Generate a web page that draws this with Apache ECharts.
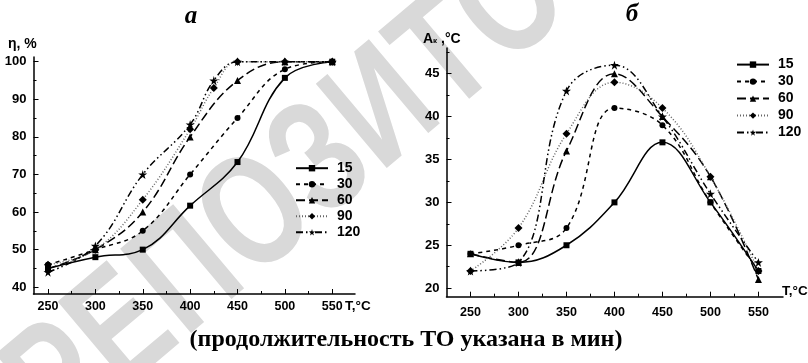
<!DOCTYPE html>
<html>
<head>
<meta charset="utf-8">
<script src="https://cdn.jsdelivr.net/npm/echarts@6/dist/echarts.min.js"></script>
<style>
  html, body { margin: 0; padding: 0; background: #fff; }
  #chart { width: 808px; height: 363px; }
</style>
</head>
<body>
<div id="chart"></div>
<script>
// heat-treatment duration, min
const durations = ['15', '30', '60', '90', '120'];

// (a) efficiency, %
const tempsA = [250, 300, 350, 400, 450, 500, 550];
const tempsA425 = [250, 300, 350, 400, 425, 450, 500, 550];
const eta15 = [45, 48, 50, 61.7, 73.3, 95.7, 100];
const eta30 = [46, 50, 55, 70, 85, 98, 100];
const eta60 = [45, 50, 60, 80, 95, 100, 100];
const eta90 = [46, 50, 63.3, 82, 93, 100, 100, 100];
const eta120 = [44, 51, 70, 83.3, 95, 100, 100, 100];

// (б) A_k, °C
const tempsB = [250, 300, 350, 400, 450, 500, 550];
const ak15 = [24, 23, 25, 30, 37, 30, 22];
const ak30 = [24, 25, 27, 41, 39, 30, 22];
const ak60 = [24, 23, 36, 45, 40, 33, 21];
const ak90 = [22, 27, 38, 44, 41, 33, 22];
const ak120 = [22, 23, 43, 46, 40, 31, 23];

// tick labels
const xTicks = [250, 300, 350, 400, 450, 500, 550];
const xMinor = [275, 325, 375, 425, 475, 525];
const yTicksA = [40, 50, 60, 70, 80, 90, 100];
const yMinorA = [45, 55, 65, 75, 85, 95];
const yTicksB = [20, 25, 30, 35, 40, 45];
const yMinorB = [22.5, 27.5, 32.5, 37.5, 42.5, 47.5];

// background watermark
const watermark = ['Р', 'Е', 'П', 'О', 'З', 'И', 'Т', 'О'];

const STAR = 'path://M50,0 L61,35 L98,35 L68,57 L79,91 L50,70 L21,91 L32,57 L2,35 L39,35 Z';
const styles = [
  { symbol: 'rect', size: 6, line: 'solid', color: '#000' },
  { symbol: 'circle', size: 6, line: [4, 4], color: '#000' },
  { symbol: 'triangle', size: 7, line: [9, 4], color: '#000' },
  { symbol: 'diamond', size: 8, line: [1, 2], color: '#666' },
  { symbol: STAR, size: 9, line: [7, 3, 1.5, 3, 1.5, 3], color: '#000' }
];

const chart = echarts.init(document.getElementById('chart'), null, { renderer: 'canvas' });

const labelFont = { color: '#000', fontWeight: 'bold', fontSize: 12.5, fontFamily: 'Liberation Sans, Arial' };

function xAxes(gridIndex, min, max, margin) {
  return [
    {
      type: 'value', gridIndex, min, max, position: 'bottom',
      axisLine: { onZero: false, lineStyle: { color: '#000', width: 1.5 } },
      axisTick: { inside: true, length: 5, customValues: xTicks, lineStyle: { color: '#000' } },
      axisLabel: Object.assign({ customValues: xTicks, margin }, labelFont),
      splitLine: { show: false }
    },
    {
      type: 'value', gridIndex, min, max, position: 'bottom',
      axisLine: { show: false },
      axisTick: { inside: true, length: 3, customValues: xMinor, lineStyle: { color: '#000' } },
      axisLabel: { show: false },
      splitLine: { show: false }
    }
  ];
}

function yAxes(gridIndex, min, max, ticks, minor) {
  return [
    {
      type: 'value', gridIndex, min, max, position: 'left',
      axisLine: { show: true, onZero: false, lineStyle: { color: '#000', width: 1.5 } },
      axisTick: { show: true, inside: true, length: 5, customValues: ticks, lineStyle: { color: '#000' } },
      axisLabel: Object.assign({ customValues: ticks, margin: 7 }, labelFont, { fontSize: 13 }),
      splitLine: { show: false }
    },
    {
      type: 'value', gridIndex, min, max, position: 'left',
      axisLine: { show: false },
      axisTick: { show: true, inside: true, length: 3, customValues: minor, lineStyle: { color: '#000' } },
      axisLabel: { show: false },
      splitLine: { show: false }
    }
  ];
}

function makeSeries(xs, ys, i, xAxisIndex, yAxisIndex) {
  const st = styles[i];
  return {
    name: durations[i],
    type: 'line',
    xAxisIndex, yAxisIndex,
    data: xs.map((x, k) => [x, ys[k]]),
    smooth: 0.4,
    symbol: st.symbol,
    symbolSize: st.size,
    showAllSymbol: true,
    itemStyle: { color: '#000' },
    lineStyle: { color: st.color, width: 1.5, type: st.line },
    z: 3 + i,
    animation: false
  };
}

const seriesA = [
  makeSeries(tempsA, eta15, 0, 0, 0),
  makeSeries(tempsA, eta30, 1, 0, 0),
  makeSeries(tempsA, eta60, 2, 0, 0),
  makeSeries(tempsA425, eta90, 3, 0, 0),
  makeSeries(tempsA425, eta120, 4, 0, 0)
];
const seriesB = [
  makeSeries(tempsB, ak15, 0, 2, 2),
  makeSeries(tempsB, ak30, 1, 2, 2),
  makeSeries(tempsB, ak60, 2, 2, 2),
  makeSeries(tempsB, ak90, 3, 2, 2),
  makeSeries(tempsB, ak120, 4, 2, 2)
];

const legendBase = {
  orient: 'vertical',
  data: durations,
  itemWidth: 32,
  itemHeight: 8,
  selectedMode: false,
  textStyle: Object.assign({ width: 30, align: 'center', lineHeight: 16, padding: [0, 0, 0, 4] }, labelFont, { fontSize: 14 })
};

// watermark letters laid along a 40° line, widths in em of Liberation Sans
const wmWidths = [0.667, 0.667, 0.722, 0.778, 0.6, 0.722, 0.611, 0.778];
const wmAngle = 0.70, wmEm = 122;
let wmPos = -2.112 - 0.333;
const wmGraphics = watermark.map((ch, i) => {
  const c = wmPos + wmWidths[i] / 2;
  wmPos += wmWidths[i];
  return {
    type: 'text', silent: true, z: -10,
    x: 259 + c * wmEm * Math.cos(wmAngle),
    y: 218 - c * wmEm * Math.sin(wmAngle),
    rotation: wmAngle, scaleX: 0.74,
    style: { text: ch, fill: '#d9d9d9', font: 'bold 160px "Liberation Sans", Arial', textAlign: 'center', textVerticalAlign: 'middle' }
  };
});

const option = {
  animation: false,
  backgroundColor: '#fff',
  grid: [
    { left: 33.5, width: 321.5, top: 57, height: 237 },
    { left: 446.5, width: 336.5, top: 48, height: 248.7 }
  ],
  xAxis: [].concat(xAxes(0, 234.7, 574, 6), xAxes(1, 225, 575.6, 9)),
  yAxis: [].concat(yAxes(0, 38.2, 101.25, yTicksA, yMinorA), yAxes(1, 19, 48, yTicksB, yMinorB)),
  legend: [
    Object.assign({ left: 290, top: 155.2, itemGap: 0 }, legendBase),
    Object.assign({ left: 731, top: 51.6, itemGap: 1 }, legendBase)
  ],
  graphic: wmGraphics.concat([
    { type: 'text', x: 191, y: 17, style: { text: 'а', fill: '#000', font: 'italic bold 25px "Liberation Serif"', textAlign: 'center', textVerticalAlign: 'middle' } },
    { type: 'text', x: 632, y: 15, style: { text: 'б', fill: '#000', font: 'italic bold 25px "Liberation Serif"', textAlign: 'center', textVerticalAlign: 'middle' } },
    { type: 'text', x: 8, y: 44, style: { text: 'η, %', fill: '#000', font: 'bold 14px "Liberation Sans"', textVerticalAlign: 'middle' } },
    { type: 'text', x: 345, y: 306.5, style: { text: 'T,°C', fill: '#000', font: 'bold 13.5px "Liberation Sans"', textVerticalAlign: 'middle' } },
    {
      type: 'text', x: 423, y: 39,
      style: {
        text: '{a|A}{k|к}{a| ,°C}', textVerticalAlign: 'middle',
        rich: {
          a: { fill: '#000', fontWeight: 'bold', fontSize: 14, fontFamily: 'Liberation Sans' },
          k: { fill: '#000', fontWeight: 'bold', fontSize: 8, fontFamily: 'Liberation Sans', padding: [4, 0, 0, 0] }
        }
      }
    },
    { type: 'text', x: 782, y: 291, style: { text: 'T,°C', fill: '#000', font: 'bold 13.5px "Liberation Sans"', textVerticalAlign: 'middle' } },
    { type: 'text', x: 406, y: 340, style: { text: '(продолжительность ТО указана в мин)', fill: '#000', font: 'bold 24px "Liberation Serif"', textAlign: 'center', textVerticalAlign: 'middle' } }
  ]),
  series: seriesA.concat(seriesB)
};

chart.setOption(option);
</script>
</body>
</html>
